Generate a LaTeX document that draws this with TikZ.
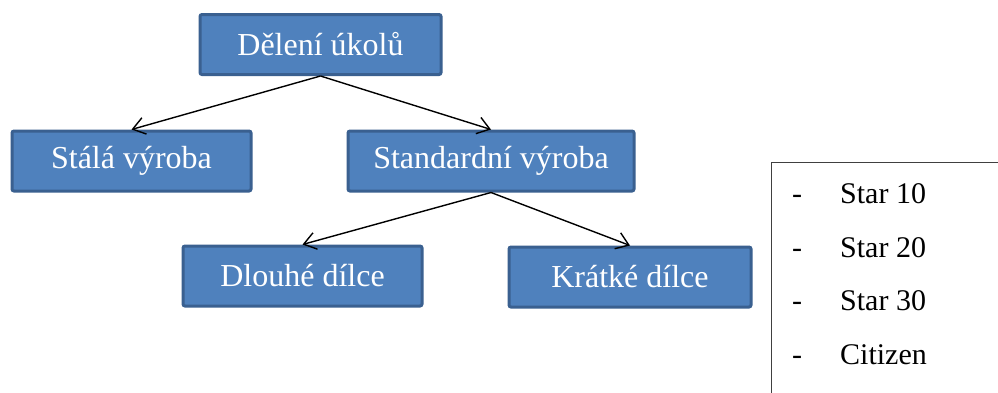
\documentclass[tikz,border=0pt]{standalone}
\usepackage{fontspec}
\setmainfont{Liberation Serif}
\usetikzlibrary{arrows.meta}
\definecolor{boxfill}{HTML}{4F81BD}
\definecolor{boxline}{HTML}{3A6090}
\definecolor{frameline}{HTML}{404040}
\tikzset{
  task/.style={draw=boxline, line width=3pt, fill=boxfill, rounded corners=2pt,
    text=white, font=\fontsize{32}{36}\selectfont,
    minimum height=60pt, inner sep=0pt, anchor=center},
  link/.style={line width=1.4pt, -{Straight Barb[length=12pt,width=17pt,line width=1.4pt]}},
  item/.style={font=\fontsize{30}{34}\selectfont, text=black, inner sep=0pt},
}
\begin{document}
\begin{tikzpicture}[x=1pt,y=-1pt]
\clip (0,0) rectangle (998,392);
\fill[white] (0,0) rectangle (998,392);

% task hierarchy
\node[task, minimum width=241pt] (root) at (320.5,44.5) {Dělení úkolů};
\node[task, minimum width=239pt] (stala) at (131.5,161) {Stálá výroba};
\node[task, minimum width=286pt] (std) at (491,161) {Standardní výroba};
\node[task, minimum width=239pt] (dlouhe) at (302.5,276) {Dlouhé dílce};
\node[task, minimum width=242pt] (kratke) at (630,277) {Krátké dílce};

\draw[link] (root.south) -- (stala.north);
\draw[link] (root.south) -- (std.north);
\draw[link] (std.south) -- (dlouhe.north);
\draw[link] (std.south) -- (kratke.north);

% machine list in a frame
\draw[frameline, line width=1pt] (771,162) rectangle (1010,410);
\node[item, anchor=base] (d1) at (797,203) {-};
\node[item, anchor=base west] (s1) at (840,203) {Star 10};
\node[item, anchor=base] (d2) at (797,257) {-};
\node[item, anchor=base west] (s2) at (840,257) {Star 20};
\node[item, anchor=base] (d3) at (797,310.5) {-};
\node[item, anchor=base west] (s3) at (840,310.5) {Star 30};
\node[item, anchor=base] (d4) at (797,364) {-};
\node[item, anchor=base west] (s4) at (840,364) {Citizen};
\end{tikzpicture}
\end{document}
